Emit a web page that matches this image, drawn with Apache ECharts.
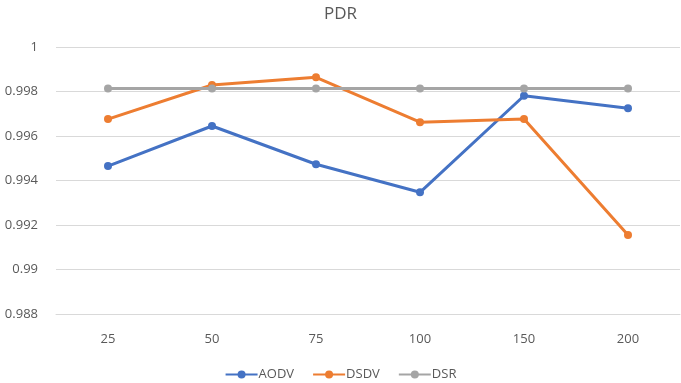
<!DOCTYPE html>
<html><head><meta charset="utf-8">
<script src="https://cdn.jsdelivr.net/npm/echarts@6/dist/echarts.min.js"></script>
<style>html,body{margin:0;padding:0;background:#fff}#c{width:681px;height:383px}</style>
</head><body><div id="c"></div>
<script>
const categories = ['25','50','75','100','150','200'];
const aodv = [0.99465, 0.99645, 0.99473, 0.99347, 0.99781, 0.99725];
const dsdv = [0.99676, 0.99829, 0.99864, 0.99662, 0.99676, 0.99155];
const dsr  = [0.99814, 0.99814, 0.99814, 0.99814, 0.99814, 0.99814];
const seriesNames = ['AODV','DSDV','DSR'];
const colors = ['#4472C4','#ED7D31','#A5A5A5'];

const chart = echarts.init(document.getElementById('c'), null, {renderer:'canvas'});
const font = '"Open Sans", "Liberation Sans", sans-serif';
function mk(name, data, color){
  return {name, type:'line', data, color, symbol:'circle', symbolSize:8,
    lineStyle:{width:3, color}, itemStyle:{color}, animation:false};
}
chart.setOption({
  animation:false,
  title:{text:'PDR', left:'center', top:1, textStyle:{fontFamily:font, fontSize:17, fontWeight:'normal', color:'#595959'}},
  legend:{bottom:-3, left:'center', itemWidth:32, itemHeight:10, itemGap:18,
    textStyle:{fontFamily:font, fontSize:13, color:'#595959', padding:[0,0,0,-4]},
    data: seriesNames},
  grid:{left:56, right:1, top:47, bottom:69},
  xAxis:{type:'category', data:categories, boundaryGap:true,
    axisLine:{show:true, lineStyle:{color:'#D9D9D9'}}, axisTick:{show:false},
    axisLabel:{fontFamily:font, fontSize:13, color:'#595959', margin:19}},
  yAxis:{type:'value', min:0.988, max:1, interval:0.002,
    axisLine:{show:false}, axisTick:{show:false},
    splitLine:{lineStyle:{color:'#D9D9D9', width:1}},
    axisLabel:{fontFamily:font, fontSize:13, color:'#595959', margin:18,
      formatter:v=>String(+v.toFixed(3))}},
  series:[mk('AODV',aodv,colors[0]), mk('DSDV',dsdv,colors[1]), mk('DSR',dsr,colors[2])]
});
</script></body></html>
